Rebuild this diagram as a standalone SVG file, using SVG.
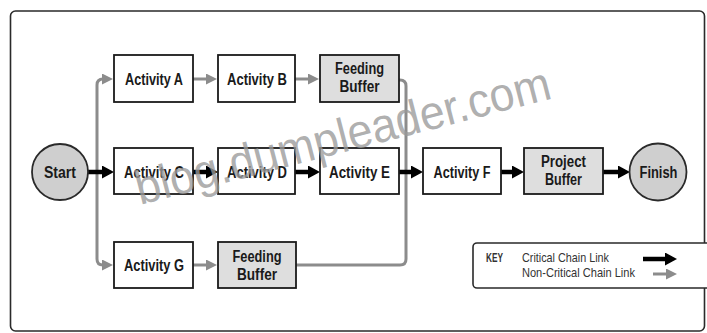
<svg xmlns="http://www.w3.org/2000/svg" width="707" height="333" viewBox="0 0 707 333">
<style>
  .box { fill: #ffffff; stroke: #1a1a1a; stroke-width: 1.8; }
  .buf { fill: #dedede; stroke: #1a1a1a; stroke-width: 1.8; }
  .circ { fill: #cfcfcf; stroke: #2a2a2a; stroke-width: 1.8; }
  .lbl { font-family: "Liberation Sans", Arial, sans-serif; font-weight: bold; font-size: 16px; fill: #1a1a1a; text-anchor: middle; }
  .crit { stroke: #000; stroke-width: 4.5; fill: none; }
  .non { stroke: #8c8c8c; stroke-width: 3; fill: none; }
  .key { font-family: "Liberation Sans", Arial, sans-serif; font-size: 13px; fill: #333; }
  .wm { font-family: "Liberation Sans", Arial, sans-serif; font-size: 48px; fill: #9a9a9a; fill-opacity: 0.8; }
</style>
<defs>
  <marker id="ah-black" markerUnits="userSpaceOnUse" markerWidth="12" markerHeight="13" refX="7" refY="6.5" orient="auto">
    <path d="M0,0 L12,6.5 L0,13 z" fill="#000"/>
  </marker>
  <marker id="ah-gray" markerUnits="userSpaceOnUse" markerWidth="11" markerHeight="11" refX="6" refY="5.5" orient="auto">
    <path d="M0,0 L11,5.5 L0,11 z" fill="#8c8c8c"/>
  </marker>
</defs>
<rect width="707" height="333" fill="#ffffff"/>
<rect x="10.5" y="11" width="694" height="320" rx="5" fill="none" stroke="#2a2a2a" stroke-width="1.6"/>

<g id="connectors">
  <!-- non-critical -->
  <path class="non" d="M97,172 V85 Q97,79 103,79 H108" marker-end="url(#ah-gray)"/>
  <path class="non" d="M97,172 V259 Q97,265 103,265 H108" marker-end="url(#ah-gray)"/>
  <path class="non" d="M193,79 H212" marker-end="url(#ah-gray)"/>
  <path class="non" d="M295,79 H314" marker-end="url(#ah-gray)"/>
  <path class="non" d="M193,265 H212" marker-end="url(#ah-gray)"/>
  <path class="non" d="M399,80 H400 Q406,80 406,86 V259 Q406,265 400,265 H296"/>
  <!-- critical -->
  <path class="crit" d="M88,172 H109" marker-end="url(#ah-black)"/>
  <path class="crit" d="M193,172 H213" marker-end="url(#ah-black)"/>
  <path class="crit" d="M295,172 H315" marker-end="url(#ah-black)"/>
  <path class="crit" d="M399,172 H418" marker-end="url(#ah-black)"/>
  <path class="crit" d="M501,172 H519" marker-end="url(#ah-black)"/>
  <path class="crit" d="M603,172 H625" marker-end="url(#ah-black)"/>
</g>

<g id="start"><circle class="circ" cx="60" cy="172" r="28"/><text class="lbl" x="60" y="177.5" textLength="32" lengthAdjust="spacingAndGlyphs">Start</text></g>
<g id="activity-a"><rect class="box" x="114" y="55" width="79" height="47"/><text class="lbl" x="154" y="85" textLength="58" lengthAdjust="spacingAndGlyphs">Activity A</text></g>
<g id="activity-b"><rect class="box" x="218" y="55" width="77" height="47"/><text class="lbl" x="257" y="85" textLength="60" lengthAdjust="spacingAndGlyphs">Activity B</text></g>
<g id="feeding-buffer-1"><rect class="buf" x="320" y="55" width="79" height="47"/><text class="lbl" x="359.5" y="74" textLength="49" lengthAdjust="spacingAndGlyphs">Feeding</text><text class="lbl" x="359.5" y="92" textLength="40" lengthAdjust="spacingAndGlyphs">Buffer</text></g>
<g id="activity-c"><rect class="box" x="114" y="148" width="79" height="46"/><text class="lbl" x="154" y="177.5" textLength="60" lengthAdjust="spacingAndGlyphs">Activity C</text></g>
<g id="activity-d"><rect class="box" x="218" y="148" width="77" height="46"/><text class="lbl" x="257" y="177.5" textLength="60" lengthAdjust="spacingAndGlyphs">Activity D</text></g>
<g id="activity-e"><rect class="box" x="320" y="148" width="79" height="46"/><text class="lbl" x="359.5" y="177.5" textLength="61" lengthAdjust="spacingAndGlyphs">Activity E</text></g>
<g id="activity-f"><rect class="box" x="423" y="148" width="78" height="46"/><text class="lbl" x="462" y="177.5" textLength="57" lengthAdjust="spacingAndGlyphs">Activity F</text></g>
<g id="project-buffer"><rect class="buf" x="524" y="148" width="79" height="46"/><text class="lbl" x="563.5" y="167" textLength="45" lengthAdjust="spacingAndGlyphs">Project</text><text class="lbl" x="563.5" y="185" textLength="37" lengthAdjust="spacingAndGlyphs">Buffer</text></g>
<g id="finish"><circle class="circ" cx="658" cy="172" r="28.5"/><text class="lbl" x="658.5" y="177.5" textLength="38" lengthAdjust="spacingAndGlyphs">Finish</text></g>
<g id="activity-g"><rect class="box" x="114" y="242" width="79" height="46"/><text class="lbl" x="154" y="271" textLength="60" lengthAdjust="spacingAndGlyphs">Activity G</text></g>
<g id="feeding-buffer-2"><rect class="buf" x="218" y="242" width="78" height="46"/><text class="lbl" x="257" y="262" textLength="49" lengthAdjust="spacingAndGlyphs">Feeding</text><text class="lbl" x="257" y="279.5" textLength="40" lengthAdjust="spacingAndGlyphs">Buffer</text></g>

<g id="key">
  <rect x="473" y="243" width="245" height="45" rx="4" fill="#ffffff" stroke="#2a2a2a" stroke-width="1.6"/>
  <text class="key" x="486" y="262" font-weight="bold" fill="#1a1a1a" textLength="17" lengthAdjust="spacingAndGlyphs">KEY</text>
  <text class="key" x="522" y="262" textLength="87" lengthAdjust="spacingAndGlyphs">Critical Chain Link</text>
  <text class="key" x="522" y="277" textLength="113" lengthAdjust="spacingAndGlyphs">Non-Critical Chain Link</text>
  <path class="crit" d="M643,259 H672" marker-end="url(#ah-black)"/>
  <path class="non" d="M653,274 H672" marker-end="url(#ah-gray)"/>
</g>

<text class="wm" x="140" y="205" transform="rotate(-14.5 140 205)" textLength="427" lengthAdjust="spacingAndGlyphs">blog.dumpleader.com</text>
</svg>
